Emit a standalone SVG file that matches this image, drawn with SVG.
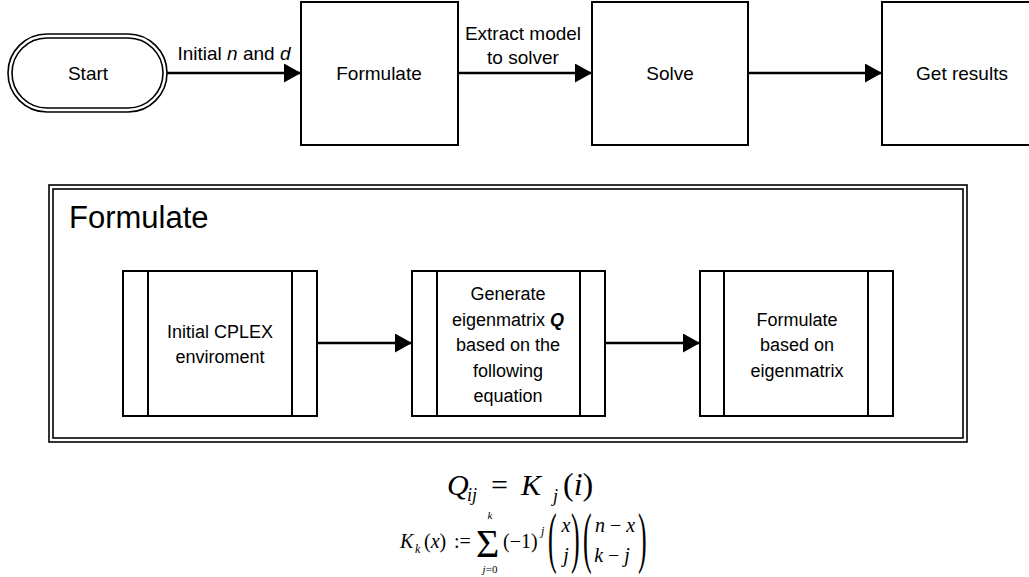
<svg xmlns="http://www.w3.org/2000/svg" width="1029" height="577" viewBox="0 0 1029 577">
<style>
.box{fill:#fff;stroke:#000;stroke-width:2}
.thin{fill:none;stroke:#000;stroke-width:1.6}
.lbl{font-family:"Liberation Sans",Arial,sans-serif;font-size:19px;fill:#000;text-anchor:middle}
.in{font-family:"Liberation Sans",Arial,sans-serif;font-size:18px;fill:#000;text-anchor:middle}
.ttl{font-family:"Liberation Sans",Arial,sans-serif;font-size:31px;fill:#000}
.m{font-family:"Liberation Serif","Times New Roman",serif;fill:#000}
.it{font-style:italic}
.conn{stroke:#000;stroke-width:2.5;fill:none;marker-end:url(#ah)}
</style>
<defs>
<marker id="ah" markerUnits="userSpaceOnUse" markerWidth="17" markerHeight="19" refX="17" refY="9.5" orient="auto">
<path d="M0,0 L17,9.5 L0,19 z" fill="#000"/>
</marker>
</defs>
<rect width="1029" height="577" fill="#fff"/>

<g id="start">
<rect x="8" y="34" width="159" height="78" rx="39" ry="39" class="thin"/>
<rect x="12" y="38" width="151" height="70" rx="35" ry="35" class="thin"/>
<text x="88" y="80" class="lbl">Start</text>
</g>
<g id="formulate">
<rect x="301" y="2" width="157" height="143" class="box"/>
<text x="379" y="80" class="lbl">Formulate</text>
</g>
<g id="solve">
<rect x="592" y="2" width="156" height="143" class="box"/>
<text x="670" y="80" class="lbl">Solve</text>
</g>
<g id="get-results">
<rect x="882" y="2" width="160" height="143" class="box"/>
<text x="962" y="80" class="lbl">Get results</text>
</g>

<g id="formulate-container">
<rect x="49" y="185" width="918" height="257" class="thin"/>
<rect x="53" y="189" width="910" height="249" class="thin"/>
<text x="69" y="228" class="ttl">Formulate</text>
</g>
<g id="initial-cplex">
<rect x="123" y="271" width="194" height="145" class="box"/>
<line x1="148" y1="271" x2="148" y2="416" stroke="#000" stroke-width="2"/>
<line x1="292" y1="271" x2="292" y2="416" stroke="#000" stroke-width="2"/>
<text x="220" y="338" class="in">Initial CPLEX</text>
<text x="220" y="363" class="in">enviroment</text>
</g>
<g id="generate">
<rect x="412" y="271" width="193" height="145" class="box"/>
<line x1="437" y1="271" x2="437" y2="416" stroke="#000" stroke-width="2"/>
<line x1="580" y1="271" x2="580" y2="416" stroke="#000" stroke-width="2"/>
<text x="508" y="300" class="in">Generate</text>
<text x="508" y="326" class="in">eigenmatrix <tspan font-weight="bold" font-style="italic">Q</tspan></text>
<text x="508" y="351" class="in">based on the</text>
<text x="508" y="377" class="in">following</text>
<text x="508" y="402" class="in">equation</text>
</g>
<g id="formulate-eigen">
<rect x="700" y="271" width="193" height="145" class="box"/>
<line x1="724" y1="271" x2="724" y2="416" stroke="#000" stroke-width="2"/>
<line x1="868" y1="271" x2="868" y2="416" stroke="#000" stroke-width="2"/>
<text x="797" y="326" class="in">Formulate</text>
<text x="797" y="351" class="in">based on</text>
<text x="797" y="377" class="in">eigenmatrix</text>
</g>

<g id="connectors">
<line x1="167" y1="73" x2="301" y2="73" class="conn"/>
<line x1="458" y1="73" x2="592" y2="73" class="conn"/>
<line x1="748" y1="73" x2="882" y2="73" class="conn"/>
<line x1="317" y1="343" x2="412" y2="343" class="conn"/>
<line x1="605" y1="343" x2="700" y2="343" class="conn"/>
<text x="234" y="60" class="lbl">Initial <tspan font-style="italic">n</tspan> and <tspan font-style="italic">d</tspan></text>
<text x="523" y="40" class="lbl">Extract model</text>
<text x="523" y="64" class="lbl">to solver</text>
</g>

<g id="equations">
<text x="447" y="495" class="m it" font-size="30">Q</text>
<text x="467" y="501" class="m it" font-size="18">ij</text>
<text x="491" y="495" class="m" font-size="30">=</text>
<text x="521" y="495" class="m it" font-size="30">K</text>
<text x="553" y="502" class="m it" font-size="18">j</text>
<text x="563" y="495" class="m" font-size="32">(<tspan font-style="italic">i</tspan>)</text>

<text x="400" y="548" class="m it" font-size="20">K</text>
<text x="415" y="553" class="m it" font-size="12">k</text>
<text x="424" y="548" class="m" font-size="20">(<tspan font-style="italic">x</tspan>)</text>
<text x="454" y="548" class="m" font-size="20">:=</text>
<text x="476" y="557" class="m" font-size="40">Σ</text>
<text x="490" y="519" class="m it" font-size="11" text-anchor="middle">k</text>
<text x="490" y="573" class="m" font-size="11" text-anchor="middle"><tspan font-style="italic">j</tspan>=0</text>
<text x="503" y="548" class="m" font-size="20">(−1)</text>
<text x="541" y="535" class="m it" font-size="12">j</text>
<text class="m" font-size="20" transform="translate(548,560) scale(1.3,3.4)">(</text>
<text class="m" font-size="20" transform="translate(571,560) scale(1.3,3.4)">)</text>
<text class="m" font-size="20" transform="translate(583,560) scale(1.3,3.4)">(</text>
<text class="m" font-size="20" transform="translate(638,560) scale(1.3,3.4)">)</text>
<text x="566" y="532" class="m it" font-size="20" text-anchor="middle">x</text>
<text x="566" y="562" class="m it" font-size="20" text-anchor="middle">j</text>
<text x="615" y="532" class="m" font-size="20" text-anchor="middle"><tspan font-style="italic">n</tspan> − <tspan font-style="italic">x</tspan></text>
<text x="612" y="562" class="m" font-size="20" text-anchor="middle"><tspan font-style="italic">k</tspan> − <tspan font-style="italic">j</tspan></text>
</g>
</svg>
